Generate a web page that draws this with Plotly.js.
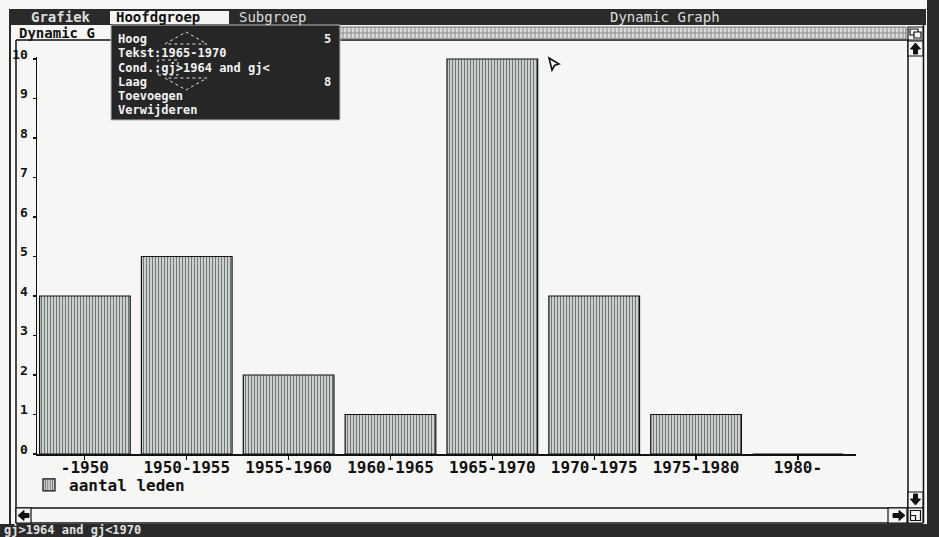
<!DOCTYPE html>
<html>
<head>
<meta charset="utf-8">
<script src="https://cdn.plot.ly/plotly-3.0.1.min.js"></script>
<style>
  html, body { margin: 0; padding: 0; background: #f6f6f4; }
  #chart { width: 939px; height: 537px; }
</style>
</head>
<body>
<div id="chart"></div>
<script>
// ---- data ----
const categories = ['-1950', '1950-1955', '1955-1960', '1960-1965', '1965-1970', '1970-1975', '1975-1980', '1980-'];
const aantalLeden = [4, 5, 2, 1, 10, 4, 1, 0];
const seriesName = 'aantal leden';
const yTickValues = [0, 1, 2, 3, 4, 5, 6, 7, 8, 9, 10];

const menuItems = ['Grafiek', 'Hoofdgroep', 'Subgroep'];
const windowTitle = 'Dynamic Graph';
const subTitle = 'Dynamic G';
const popupLines = ['Hoog', 'Tekst:1965-1970', 'Cond.:gj>1964 and gj<', 'Laag', 'Toevoegen', 'Verwijderen'];
const popupValues = ['5', '', '', '8', '', ''];
const statusText = 'gj>1964 and gj<1970';

// ---- helpers (figure pixels -> paper fractions) ----
const W = 939, H = 537;
const X = px => px / W;
const Y = py => 1 - py / H;
const DARK = '#2a2a2a';
const PAPER = '#f6f6f4';
const FONT = 'DejaVu Sans Mono';

function rect(x0, y0, x1, y1, fill, line, lw) {
  return {type: 'rect', xref: 'paper', yref: 'paper', x0: X(x0), x1: X(x1), y0: Y(y1), y1: Y(y0),
    fillcolor: fill, line: {color: line || fill, width: lw === undefined ? 0 : lw}, layer: 'above'};
}
function seg(x0, y0, x1, y1, color, w, dash) {
  return {type: 'line', xref: 'paper', yref: 'paper', x0: X(x0), x1: X(x1), y0: Y(y0), y1: Y(y1),
    line: {color: color, width: w, dash: dash || 'solid'}, layer: 'above'};
}
function path(pts, fill, line, lw, closed, dash) {
  let d = pts.map((p, i) => (i ? 'L' : 'M') + X(p[0]) + ',' + Y(p[1])).join(' ');
  if (closed) d += ' Z';
  return {type: 'path', xref: 'paper', yref: 'paper', path: d,
    fillcolor: fill || 'rgba(0,0,0,0)', line: {color: line, width: lw, dash: dash || 'solid'}, layer: 'above'};
}
const annotations = [];
function txt(text, x, y, opts) {
  opts = opts || {};
  annotations.push({text: text, xref: 'paper', yref: 'paper', x: X(x), y: Y(y), showarrow: false,
    xanchor: opts.xanchor || 'left', yanchor: 'middle', borderpad: 0,
    font: {family: FONT, size: opts.size || 15, color: opts.color || '#111', weight: opts.weight || 'bold'}});
}

// ---- chrome shapes ----
const shapes = [];
shapes.push(rect(10, 9, 926, 25, DARK));
shapes.push(rect(110, 11, 229, 24, '#f4f4f4'));
shapes.push(seg(10, 9, 10, 524, DARK, 2));
shapes.push(rect(927, 0, 939, 537, DARK));
shapes.push(rect(0, 524, 939, 537, DARK));
shapes.push(seg(16, 40, 16, 523, '#111', 1.5));
shapes.push(seg(923.5, 25, 923.5, 523, '#111', 1.5));
shapes.push(seg(16, 40, 908, 40, '#111', 1.5));
shapes.push(seg(908, 40, 908, 523, '#111', 1.5));
shapes.push(seg(16, 508, 923, 508, '#111', 1.5));
shapes.push(seg(16, 523, 923, 523, '#111', 1.5));
// hatched band in title row
shapes.push(rect(340, 27, 906, 39, '#dadada', '#666', 1));
(function () {
  let d = '';
  for (let x = 343; x < 906; x += 4) d += 'M' + X(x) + ',' + Y(27) + ' L' + X(x) + ',' + Y(39) + ' ';
  d += 'M' + X(340) + ',' + Y(33) + ' L' + X(906) + ',' + Y(33);
  shapes.push({type: 'path', xref: 'paper', yref: 'paper', path: d, line: {color: '#8a8a8a', width: 1}, layer: 'above'});
})();
// title-row icon
shapes.push(rect(908, 27, 923, 40, '#f4f4f4', '#111', 1.2));
shapes.push(rect(910, 29, 918, 35, '#f4f4f4', '#111', 1.2));
shapes.push(rect(914, 32, 921, 38, '#f4f4f4', '#111', 1.2));
// vertical scroll arrows
shapes.push(rect(908, 41, 923, 56, '#f4f4f4', '#111', 1.2));
shapes.push(path([[915.5, 43], [910.5, 49], [913.5, 49], [913.5, 54], [917.5, 54], [917.5, 49], [920.5, 49]], '#111', '#111', 1, true));
shapes.push(rect(908, 492, 923, 508, '#f4f4f4', '#111', 1.2));
shapes.push(path([[915.5, 505], [910.5, 499], [913.5, 499], [913.5, 494], [917.5, 494], [917.5, 499], [920.5, 499]], '#111', '#111', 1, true));
// horizontal scroll arrows
shapes.push(rect(16, 508, 31, 523, '#f4f4f4', '#111', 1.2));
shapes.push(path([[18, 515.5], [24, 510.5], [24, 513.5], [29, 513.5], [29, 517.5], [24, 517.5], [24, 520.5]], '#111', '#111', 1, true));
shapes.push(rect(888, 508, 907, 523, '#f4f4f4', '#111', 1.2));
shapes.push(path([[905, 515.5], [899, 510.5], [899, 513.5], [893, 513.5], [893, 517.5], [899, 517.5], [899, 520.5]], '#111', '#111', 1, true));
// resize icon
shapes.push(rect(908, 508, 923, 523, '#f4f4f4', '#111', 1.2));
shapes.push(rect(910.5, 510.5, 920.5, 520.5, '#f4f4f4', '#111', 1.2));
shapes.push(path([[910.5, 515.5], [915.5, 515.5], [915.5, 520.5]], null, '#111', 1.2, false));
// popup menu
shapes.push(rect(111, 25, 340, 120, '#262626', '#bbbbbb', 1));
shapes.push(path([[165, 44], [186, 32], [207, 44], [165, 44]], null, '#e0e0e0', 1, false, 'dot'));
shapes.push(path([[165, 78], [186, 90], [207, 78], [165, 78]], null, '#e0e0e0', 1, false, 'dot'));
shapes.push(rect(158, 60, 178, 75, 'rgba(0,0,0,0)', '#e0e0e0', 1));
shapes[shapes.length - 1].line.dash = 'dot';
// mouse cursor
shapes.push(path([[549, 58], [559, 64], [554.5, 65.5], [552, 70]], '#f6f6f4', '#111', 1.6, true));

// ---- texts of the window ----
txt(menuItems[0], 30, 16.5, {color: '#dedede', size: 14});
txt(menuItems[1], 115, 16.5, {color: '#111', size: 14});
txt(menuItems[2], 238, 16.5, {color: '#dedede', size: 14, weight: 'normal'});
txt(windowTitle, 665, 16.5, {color: '#dedede', size: 14, xanchor: 'center', weight: 'normal'});
txt(subTitle, 18, 33.5, {color: '#111', size: 14});
const popupY = [39, 53.3, 67.6, 81.9, 96.2, 110.5];
popupLines.forEach((t, i) => {
  txt(t, 117, popupY[i], {color: '#f2f2f2', size: 12, weight: 'bold'});
  if (popupValues[i]) txt(popupValues[i], 332, popupY[i], {color: '#f2f2f2', size: 12, xanchor: 'right', weight: 'bold'});
});
txt(statusText, 3, 529.5, {color: '#e0e0e0', size: 12, weight: 'bold'});

// ---- chart ----
const trace = {
  type: 'bar',
  x: categories,
  y: aantalLeden,
  name: seriesName,
  width: 0.89,
  showlegend: true,
  marker: {
    color: '#dde3df',
    line: {color: '#111', width: 1.2},
    pattern: {shape: '|', size: 3, solidity: 0.45, fgcolor: '#6f7772', bgcolor: '#dfe5e1', fillmode: 'replace'}
  },
  hoverinfo: 'x+y'
};

const layout = {
  width: W, height: H,
  margin: {l: 0, r: 0, t: 0, b: 0, autoexpand: false},
  paper_bgcolor: PAPER,
  plot_bgcolor: PAPER,
  showlegend: true,
  bargap: 0.11,
  xaxis: {
    type: 'category',
    domain: [X(37), X(856)],
    range: [-0.47, 7.57],
    showline: true, linecolor: '#111', linewidth: 1.5,
    ticks: 'outside', ticklen: 4, tickcolor: '#111', tickwidth: 1.2,
    ticklabelstandoff: -6,
    showgrid: false, zeroline: false,
    tickfont: {family: FONT, size: 16, color: '#111', weight: 'bold'},
    fixedrange: true
  },
  yaxis: {
    domain: [Y(454), Y(57)],
    range: [0, 10.05],
    tickvals: yTickValues,
    showline: true, linecolor: '#111', linewidth: 1.5,
    ticks: 'outside', ticklen: 3, tickcolor: '#111', tickwidth: 1.2,
    ticklabelshift: -5,
    ticklabelstandoff: 2,
    showgrid: false, zeroline: false,
    tickfont: {family: FONT, size: 13, color: '#111', weight: 'bold'},
    fixedrange: true
  },
  legend: {
    x: X(29), y: Y(468), xanchor: 'left', yanchor: 'top',
    bgcolor: 'rgba(0,0,0,0)',
    font: {family: FONT, size: 16, color: '#111', weight: 'bold'}
  },
  shapes: shapes,
  annotations: annotations
};

Plotly.newPlot('chart', [trace], layout, {displayModeBar: false, staticPlot: true});
</script>
</body>
</html>
